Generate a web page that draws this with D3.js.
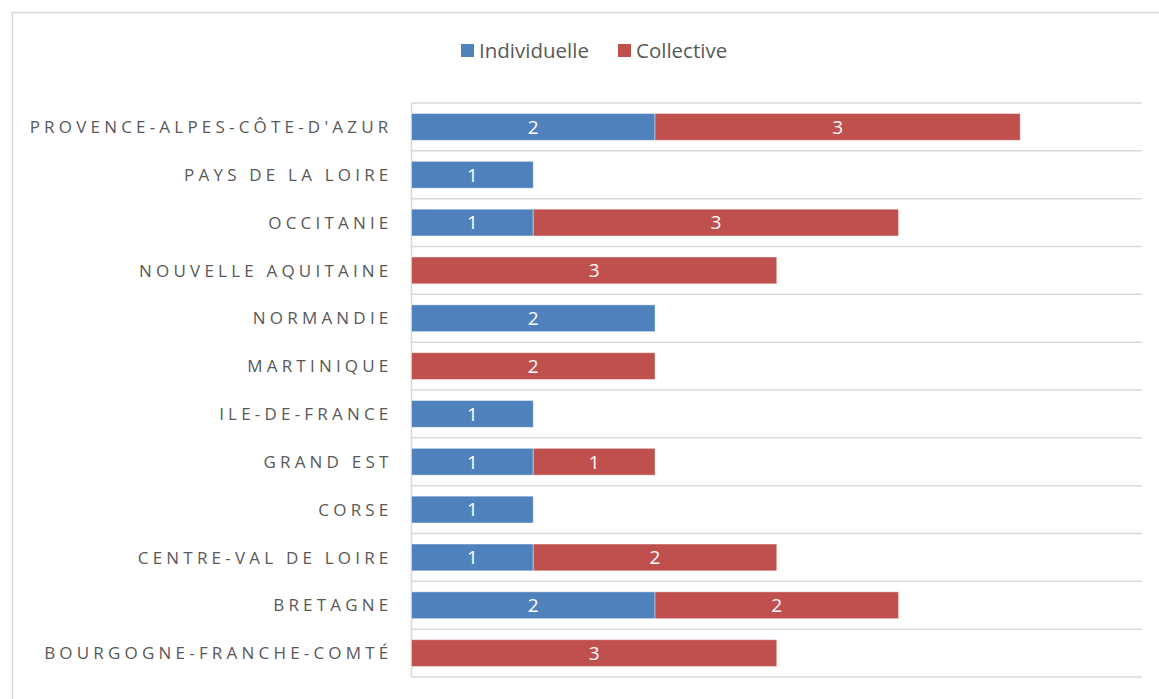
<!doctype html>
<html lang="fr">
  <head>
    <meta charset="UTF-8" />
    <title>Individuelle / Collective par région</title>
    <script src="https://d3js.org/d3.v7.min.js"></script>
    <style>
      body {
        margin: 0;
        background: #fff;
      }
      text {
        font-family: 'Open Sans', sans-serif;
      }
      .cat {
        fill: #595959;
        font-size: 17px;
        letter-spacing: 4.2px;
      }
      .val {
        fill: #fff;
        font-size: 19px;
      }
      .leg {
        fill: #595959;
        font-size: 20.5px;
      }
    </style>
  </head>
  <body>
    <svg width="1159" height="699"></svg>
    <script>
      const regions = [
        'PROVENCE-ALPES-CÔTE-D\'AZUR',
        'PAYS DE LA LOIRE',
        'OCCITANIE',
        'NOUVELLE AQUITAINE',
        'NORMANDIE',
        'MARTINIQUE',
        'ILE-DE-FRANCE',
        'GRAND EST',
        'CORSE',
        'CENTRE-VAL DE LOIRE',
        'BRETAGNE',
        'BOURGOGNE-FRANCHE-COMTÉ',
      ];
      const individuelle = [2, 1, 1, 0, 2, 0, 1, 1, 1, 1, 2, 0];
      const collective = [3, 0, 3, 3, 0, 2, 0, 1, 0, 2, 2, 3];
      const seriesNames = ['Individuelle', 'Collective'];
      const seriesColors = ['#4f81bd', '#c0504d'];

      const svg = d3.select('svg');
      const margin = { top: 103, right: 17, bottom: 22, left: 411.5 };
      const W = 1159, H = 699;

      // outer chart border
      svg
        .append('path')
        .attr('d', `M12.5,${H} V12.5 H${W}`)
        .attr('fill', 'none')
        .attr('stroke', '#d9d9d9')
        .attr('stroke-width', 1.5);

      const x = d3
        .scaleLinear()
        .domain([0, 6])
        .range([margin.left, W - margin.right]);

      const y = d3
        .scaleBand()
        .domain(regions)
        .range([margin.top, H - margin.bottom])
        .paddingInner(0.44)
        .paddingOuter(0.22);

      // horizontal gridlines at category boundaries
      const rowH = (H - margin.bottom - margin.top) / regions.length;
      svg
        .append('g')
        .selectAll('line')
        .data(d3.range(regions.length + 1))
        .enter()
        .append('line')
        .attr('x1', margin.left)
        .attr('x2', x(6))
        .attr('y1', (i) => margin.top + i * rowH)
        .attr('y2', (i) => margin.top + i * rowH)
        .attr('stroke', '#d9d9d9')
        .attr('stroke-width', 1.5);

      // vertical axis line
      svg
        .append('line')
        .attr('x1', margin.left)
        .attr('x2', margin.left)
        .attr('y1', margin.top)
        .attr('y2', H - margin.bottom)
        .attr('stroke', '#d9d9d9')
        .attr('stroke-width', 1.5);

      // stacked data
      const rows = regions.map((r, i) => ({
        region: r,
        Individuelle: individuelle[i],
        Collective: collective[i],
      }));
      const stacked = d3.stack().keys(seriesNames)(rows);

      const layers = svg
        .append('g')
        .selectAll('g')
        .data(stacked)
        .enter()
        .append('g')
        .attr('fill', (d, i) => seriesColors[i]);

      layers
        .selectAll('rect')
        .data((d) => d.filter((s) => s[1] - s[0] > 0))
        .enter()
        .append('rect')
        .attr('x', (d) => x(d[0]))
        .attr('width', (d) => x(d[1]) - x(d[0]))
        .attr('y', (d) => y(d.data.region))
        .attr('height', y.bandwidth())
        .attr('stroke', '#fff')
        .attr('stroke-opacity', 0.4)
        .attr('stroke-width', 1);

      layers
        .selectAll('text')
        .data((d) => d.filter((s) => s[1] - s[0] > 0))
        .enter()
        .append('text')
        .attr('class', 'val')
        .attr('x', (d) => (x(d[0]) + x(d[1])) / 2)
        .attr('y', (d) => y(d.data.region) + y.bandwidth() / 2)
        .attr('dy', '0.36em')
        .attr('text-anchor', 'middle')
        .text((d) => d[1] - d[0]);

      // category labels
      const yAxis = svg
        .append('g')
        .attr('transform', `translate(${margin.left - 19},0)`)
        .call(d3.axisLeft(y).tickSize(0).tickPadding(0));
      yAxis.select('.domain').remove();
      yAxis
        .selectAll('text')
        .attr('class', 'cat')
        .attr('font-size', null)
        .attr('font-family', null)
        .attr('fill', null)
        .attr('dy', '0.36em');

      // legend
      const legendX = [461, 618];
      const legend = svg
        .append('g')
        .selectAll('g')
        .data(seriesNames)
        .enter()
        .append('g')
        .attr('transform', (d, i) => `translate(${legendX[i]},44)`);
      legend
        .append('rect')
        .attr('width', 13)
        .attr('height', 13)
        .attr('fill', (d, i) => seriesColors[i]);
      legend
        .append('text')
        .attr('class', 'leg')
        .attr('x', 18)
        .attr('y', 6.5)
        .attr('dy', '0.36em')
        .text((d) => d);
    </script>
  </body>
</html>
